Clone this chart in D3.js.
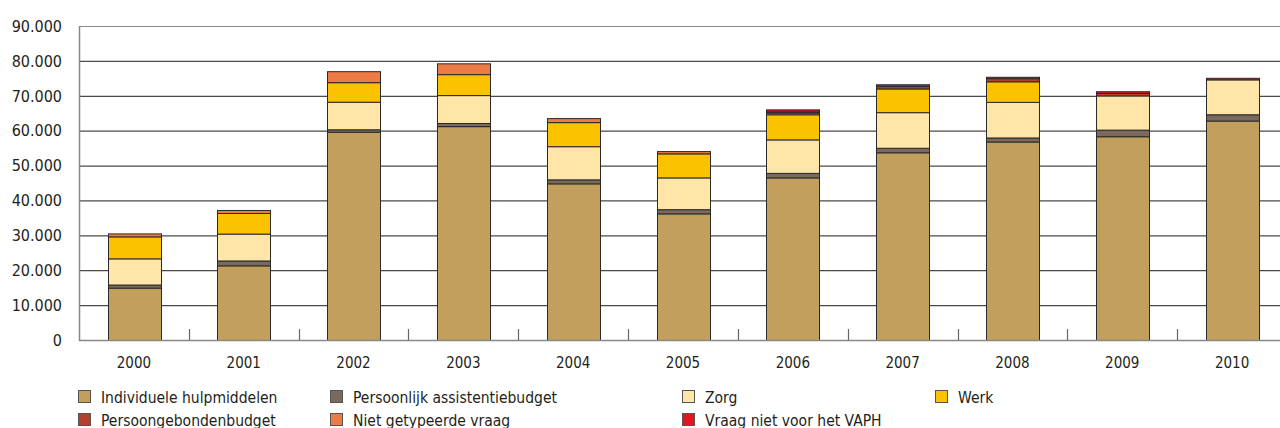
<!DOCTYPE html>
<html>
<head>
<meta charset="utf-8">
<script src="https://cdn.jsdelivr.net/npm/d3@7"></script>
<style>
  body { margin: 0; background: #fff; }
  svg { display: block; font-family: "DejaVu Sans Condensed", "DejaVu Sans", sans-serif; font-stretch: condensed; }
</style>
</head>
<body>
<svg id="chart" width="1280" height="428"></svg>
<script>
// jaren
const years = ["2000", "2001", "2002", "2003", "2004", "2005", "2006", "2007", "2008", "2009", "2010"];

// reeksen
const hulpmiddelen = [15000, 21400, 59700, 61300, 44900, 36300, 46600, 53800, 56900, 58400, 62900];
const assistentiebudget = [900, 1400, 700, 900, 1150, 1200, 1300, 1300, 1150, 1900, 1800];
const zorg = [7500, 7700, 7900, 8000, 9500, 9100, 9600, 10200, 10200, 9800, 10000];
const werk = [6300, 5900, 5600, 6000, 6900, 6900, 7200, 6800, 5900, 0, 0];
const nietGetypeerd = [850, 870, 3150, 3100, 1150, 650, 500, 0, 0, 0, 0];
const persoonsgebonden = [0, 0, 0, 0, 0, 0, 300, 700, 900, 700, 0];
const nietVAPH = [0, 0, 0, 0, 0, 0, 600, 500, 400, 500, 450];

const yTicks = [0, 10000, 20000, 30000, 40000, 50000, 60000, 70000, 80000, 90000];

// volgorde van de stapel (onder naar boven)
const series = [
  { key: "hulp", name: "Individuele hulpmiddelen", values: hulpmiddelen, color: "#c29f5c" },
  { key: "pab", name: "Persoonlijk assistentiebudget", values: assistentiebudget, color: "#7a6a5e" },
  { key: "zorg", name: "Zorg", values: zorg, color: "#ffe6a8" },
  { key: "werk", name: "Werk", values: werk, color: "#fbc200" },
  { key: "niet", name: "Niet getypeerde vraag", values: nietGetypeerd, color: "#ed7b45" },
  { key: "pgb", name: "Persoongebondenbudget", values: persoonsgebonden, color: "#b5402f" },
  { key: "vaph", name: "Vraag niet voor het VAPH", values: nietVAPH, color: "#e3161d" }
];

// legende volgorde zoals in de figuur
const legendRows = [
  ["hulp", "pab", "zorg", "werk"],
  ["pgb", "niet", "vaph"]
];
const legendX = [78, 330, 682, 935];

const svg = d3.select("#chart");
const margin = { left: 79, top: 26, bottom: 340 };

const x = d3.scaleBand().domain(years).range([79, 1287]).paddingInner(0.52).paddingOuter(0.26);
const y = d3.scaleLinear().domain([0, 90000]).range([margin.bottom, margin.top]);

const rows = years.map((yr, i) => {
  const r = { year: yr };
  series.forEach(s => r[s.key] = s.values[i]);
  return r;
});
const stack = d3.stack().keys(series.map(s => s.key));
const stacked = stack(rows);

// rasterlijnen
svg.append("g")
  .selectAll("line")
  .data(yTicks.slice(1))
  .enter()
  .append("line")
  .attr("x1", margin.left)
  .attr("x2", 1280)
  .attr("y1", d => y(d) + 0.5)
  .attr("y2", d => y(d) + 0.5)
  .attr("stroke", d => d === 90000 ? "#888" : "#4a4a4a")
  .attr("stroke-width", 1.2);

// y-as labels
const fmt = d => d === 0 ? "0" : d3.format(",")(d).replace(/,/g, ".");
svg.append("g")
  .selectAll("text")
  .data(yTicks)
  .enter()
  .append("text")
  .attr("x", 62)
  .attr("y", d => y(d))
  .attr("dy", "0.36em")
  .attr("text-anchor", "end")
  .attr("font-size", 16)
  .attr("fill", "#231f20")
  .text(fmt);

// balken
const colorOf = new Map(series.map(s => [s.key, s.color]));
svg.append("g")
  .selectAll("g")
  .data(stacked)
  .enter()
  .append("g")
  .attr("fill", d => colorOf.get(d.key))
  .selectAll("rect")
  .data(d => d.filter(p => p[1] - p[0] > 0))
  .enter()
  .append("rect")
  .attr("x", d => Math.round(x(d.data.year)) + 0.5)
  .attr("width", Math.round(x.bandwidth()))
  .attr("y", d => y(d[1]) + 0.5)
  .attr("height", d => y(d[0]) - y(d[1]))
  .attr("stroke", "#2a2a2a")
  .attr("stroke-width", 1);

// assen
svg.append("line")
  .attr("x1", margin.left + 0.5).attr("x2", margin.left + 0.5)
  .attr("y1", margin.top).attr("y2", margin.bottom + 1)
  .attr("stroke", "#888").attr("stroke-width", 1.5);
svg.append("line")
  .attr("x1", margin.left).attr("x2", 1280)
  .attr("y1", margin.bottom + 0.5).attr("y2", margin.bottom + 0.5)
  .attr("stroke", "#888").attr("stroke-width", 1.5);

// streepjes tussen de jaren
const step = x.step();
svg.append("g")
  .selectAll("line")
  .data(years.slice(0, -1))
  .enter()
  .append("line")
  .attr("x1", d => Math.round(x(d) + x.bandwidth() / 2 + step / 2) + 0.5)
  .attr("x2", d => Math.round(x(d) + x.bandwidth() / 2 + step / 2) + 0.5)
  .attr("y1", margin.bottom)
  .attr("y2", margin.bottom - 11)
  .attr("stroke", "#666")
  .attr("stroke-width", 1.2);

// x-as labels
svg.append("g")
  .selectAll("text")
  .data(years)
  .enter()
  .append("text")
  .attr("x", d => x(d) + x.bandwidth() / 2)
  .attr("y", 363)
  .attr("dy", "0.36em")
  .attr("text-anchor", "middle")
  .attr("font-size", 15)
  .attr("fill", "#231f20")
  .text(d => d);

// legende
const byKey = new Map(series.map(s => [s.key, s]));
legendRows.forEach((row, ri) => {
  const cy = 397 + ri * 23;
  row.forEach((k, ci) => {
    const s = byKey.get(k);
    const g = svg.append("g").attr("transform", `translate(${legendX[ci]},${cy})`);
    g.append("rect")
      .attr("x", 0.5).attr("y", -6.5)
      .attr("width", 12).attr("height", 12)
      .attr("fill", s.color)
      .attr("stroke", "#555").attr("stroke-width", 1);
    g.append("text")
      .attr("x", 23)
      .attr("y", 0)
      .attr("dy", "0.36em")
      .attr("font-size", 15.5)
      .attr("fill", "#231f20")
      .text(s.name);
  });
});
</script>
</body>
</html>
